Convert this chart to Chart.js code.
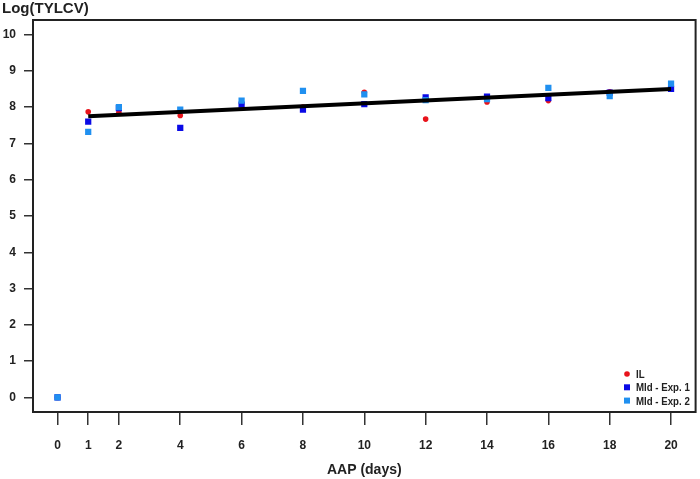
<!DOCTYPE html>
<html>
<head>
<meta charset="utf-8">
<script src="https://cdn.jsdelivr.net/npm/chart.js@4.4.1/dist/chart.umd.min.js"></script>
<style>
  html, body { margin: 0; padding: 0; background: #fff; }
  #wrap { width: 700px; height: 479px; }
</style>
</head>
<body>
<div id="wrap"><canvas id="chart"></canvas></div>
<script>
// tick labels
const xTicks = [0, 1, 2, 4, 6, 8, 10, 12, 14, 16, 18, 20];
const yTicks = [0, 1, 2, 3, 4, 5, 6, 7, 8, 9, 10];

// sampling days and values
const days = [0, 1, 2, 4, 6, 8, 10, 12, 14, 16, 18, 20];
const ilValues = [0, 7.87, 7.85, 7.77, 8.1, 8.0, 8.41, 7.67, 8.14, 8.18, 8.42, 8.5];
const mld1Values = [0, 7.6, 7.97, 7.43, 8.07, 7.93, 8.08, 8.27, 8.29, 8.25, 8.4, 8.5];
const mld2Values = [0, 7.32, 8.0, 7.93, 8.18, 8.45, 8.35, 8.19, 8.22, 8.53, 8.3, 8.65];

// fitted line end points
const fitDays = [1, 20];
const fitValues = [7.75, 8.5];

const toPoints = (xs, ys) => xs.map((x, i) => ({ x: x, y: ys[i] }));

const FONT = 'Liberation Sans, Arial, sans-serif';

// box around the plot, y axis label and legend inside the plot
const decorations = {
    id: 'decorations',
    afterDraw(chart) {
        const { ctx, chartArea: a } = chart;
        ctx.save();
        ctx.strokeStyle = '#222';
        ctx.lineWidth = 2;
        ctx.strokeRect(a.left, a.top, a.right - a.left, a.bottom - a.top);

        ctx.fillStyle = '#222';
        ctx.font = 'bold 15px ' + FONT;
        ctx.textBaseline = 'middle';
        ctx.textAlign = 'left';
        ctx.fillText('Log(TYLCV)', 2, 9);

        // legend (narrow text like the original)
        const items = chart.data.datasets.slice(0, 3);
        ctx.font = 'bold 11px ' + FONT;
        items.forEach((ds, i) => {
            const y = 374 + i * 13.3;
            const x = 627;
            ctx.fillStyle = ds.backgroundColor;
            if (ds.pointStyle === 'circle') {
                ctx.beginPath();
                ctx.arc(x, y, 2.8, 0, Math.PI * 2);
                ctx.fill();
            } else {
                ctx.fillRect(x - 3, y - 3, 6, 6);
            }
            ctx.fillStyle = '#222';
            const w = Math.min(ctx.measureText(ds.label).width * 0.88, 58);
            ctx.fillText(ds.label, x + 9, y + 1, w);
        });
        ctx.restore();
    }
};

new Chart(document.getElementById('chart').getContext('2d'), {
    type: 'scatter',
    data: {
        datasets: [
            {
                label: 'IL',
                data: toPoints(days, ilValues),
                backgroundColor: '#e8131b',
                borderColor: '#e8131b',
                pointStyle: 'circle',
                pointRadius: 2.8,
                borderWidth: 0,
                order: 3
            },
            {
                label: 'Mld - Exp. 1',
                data: toPoints(days, mld1Values),
                backgroundColor: '#0a0ae6',
                borderColor: '#0a0ae6',
                pointStyle: 'rect',
                pointRadius: 4.4,
                borderWidth: 0,
                order: 2
            },
            {
                label: 'Mld - Exp. 2',
                data: toPoints(days, mld2Values),
                backgroundColor: '#2090f0',
                borderColor: '#2090f0',
                pointStyle: 'rect',
                pointRadius: 4.4,
                borderWidth: 0,
                order: 1
            },
            {
                type: 'line',
                label: 'fit',
                data: toPoints(fitDays, fitValues),
                borderColor: '#000',
                borderWidth: 4,
                pointRadius: 0,
                fill: false,
                order: 0
            }
        ]
    },
    options: {
        responsive: true,
        maintainAspectRatio: false,
        animation: false,
        layout: { padding: { top: 20, right: 2, left: 0, bottom: 0 } },
        plugins: {
            legend: { display: false },
            tooltip: { enabled: false }
        },
        scales: {
            x: {
                type: 'linear',
                min: -0.8,
                max: 20.8,
                afterBuildTicks: (scale) => { scale.ticks = xTicks.map(v => ({ value: v })); },
                afterFit: (scale) => { scale.height = 67; },
                grid: { drawOnChartArea: false, drawTicks: true, tickLength: 13, color: '#333', lineWidth: 1.5 },
                border: { display: false },
                ticks: {
                    autoSkip: false,
                    maxRotation: 0,
                    padding: 13,
                    color: '#222',
                    font: { family: FONT, size: 12, weight: 'bold' }
                },
                title: {
                    display: true,
                    text: 'AAP (days)',
                    color: '#222',
                    padding: { top: 8, bottom: 0 },
                    font: { family: FONT, size: 14, weight: 'bold' }
                }
            },
            y: {
                type: 'linear',
                min: -0.4,
                max: 10.4,
                afterBuildTicks: (scale) => { scale.ticks = yTicks.map(v => ({ value: v })); },
                afterFit: (scale) => { scale.width = 33; },
                grid: { drawOnChartArea: false, drawTicks: true, tickLength: 9, color: '#333', lineWidth: 1.5 },
                border: { display: false },
                ticks: {
                    autoSkip: false,
                    padding: 8,
                    color: '#222',
                    font: { family: FONT, size: 12, weight: 'bold' }
                }
            }
        }
    },
    plugins: [decorations]
});
</script>
</body>
</html>
